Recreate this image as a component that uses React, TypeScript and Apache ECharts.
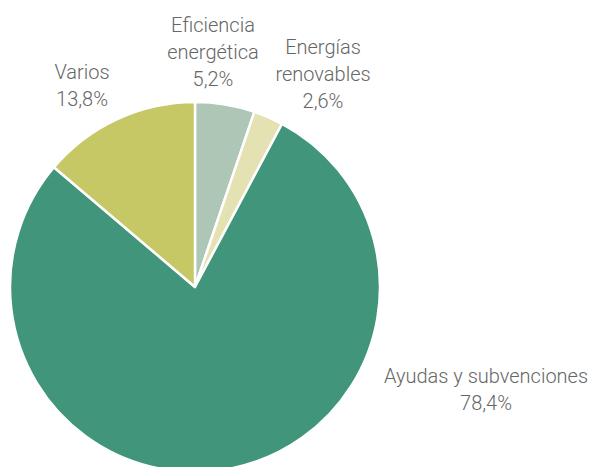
import React, { useEffect, useRef } from "react";
import * as echarts from "echarts";

const categories = ["Eficiencia\nenergética", "Energías\nrenovables", "Ayudas y subvenciones", "Varios"];
const values = [5.2, 2.6, 78.4, 13.8];
const colors = ["#adc6b6", "#e4e2b2", "#41957a", "#c5c865"];
// label anchor positions (center of text block) per slice
const labelPos = [
  [213, 52],
  [323, 74],
  [486, 389],
  [82, 85],
];

export default function App() {
  const ref = useRef<HTMLDivElement>(null);
  useEffect(() => {
    const chart = echarts.init(ref.current!, undefined, { renderer: "svg" });
    chart.setOption({
      animation: false,
      series: [
        {
          type: "pie",
          center: [195, 287],
          radius: 185,
          startAngle: 90,
          clockwise: true,
          data: categories.map((c, i) => ({
            name: c,
            value: values[i],
            itemStyle: { color: colors[i] },
          })),
          itemStyle: { borderColor: "#fff", borderWidth: 2.5 },
          label: {
            show: true,
            position: "outside",
            formatter: (p: any) => `${p.name}\n${String(p.value.toFixed(1)).replace(".", ",")}%`,
            color: "#666666",
            fontFamily: "Roboto",
            fontWeight: 300,
            fontSize: 20,
            lineHeight: 27,
            align: "center",
          },
          labelLine: { show: false },
          labelLayout: (p: any) => ({
            x: labelPos[p.dataIndex][0],
            y: labelPos[p.dataIndex][1],
            align: "center",
            verticalAlign: "middle",
          }),
        },
      ],
    });
    return () => chart.dispose();
  }, []);
  return <div ref={ref} style={{ width: 593, height: 467, position: "absolute", left: 0, top: 0 }} />;
}
